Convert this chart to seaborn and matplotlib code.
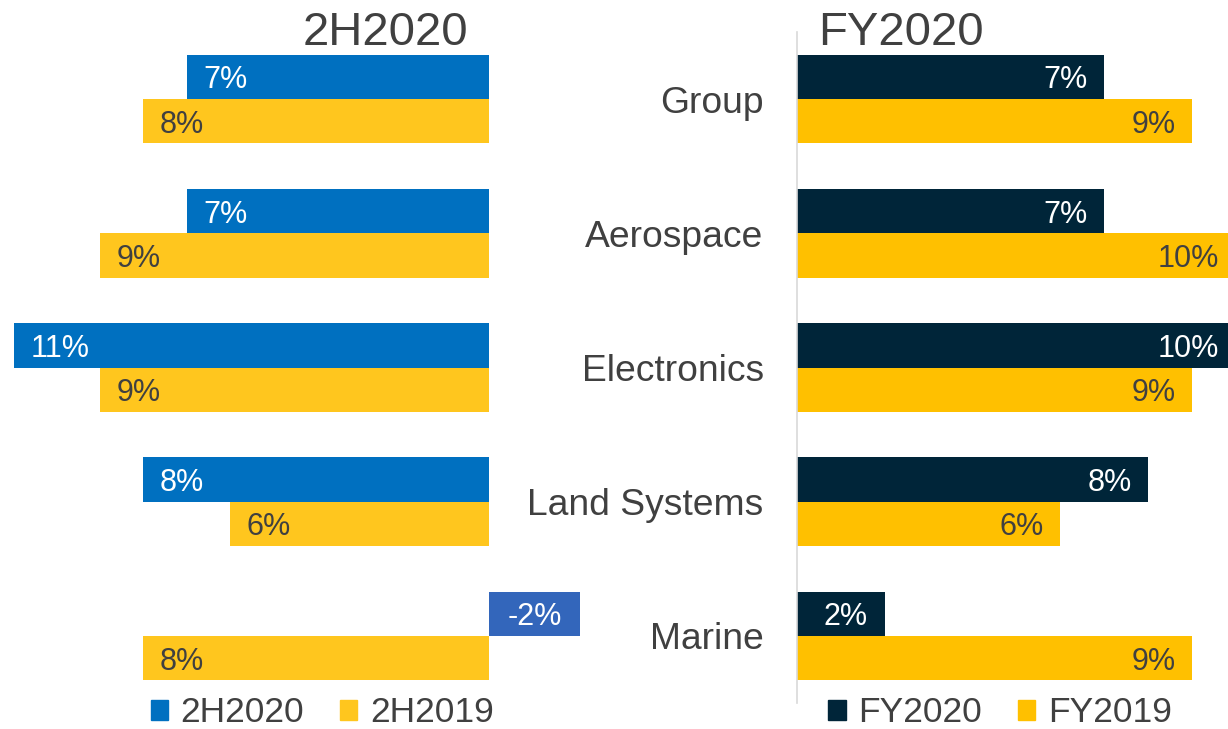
import pandas as pd
import matplotlib.pyplot as plt
import seaborn as sns
from matplotlib.patches import Patch

# Data
categories = ['Group', 'Aerospace', 'Electronics', 'Land Systems', 'Marine']
h2_2020 = [7, 7, 11, 8, -2.1]
h2_2019 = [8, 9, 9, 6, 8]
fy_2020 = [7, 7, 10, 8, 2]
fy_2019 = [9, 10, 9, 6, 9]

text_color = '#404040'
blue = '#0070C0'
blue_neg = '#3366BB'
yellow_left = '#FFC61E'
yellow_right = '#FFC000'
navy = '#002539'

sns.set_theme(style='white')
plt.rcParams['font.family'] = ['Liberation Sans', 'DejaVu Sans']
plt.rcParams['text.color'] = text_color

left_df = pd.DataFrame({
    'category': categories * 2,
    'value': h2_2020 + h2_2019,
    'series': ['2H2020'] * 5 + ['2H2019'] * 5,
})
right_df = pd.DataFrame({
    'category': categories * 2,
    'value': fy_2020 + fy_2019,
    'series': ['FY2020'] * 5 + ['FY2019'] * 5,
})

fig = plt.figure(figsize=(12.28, 7.29), dpi=100)
W, H = 1228, 729
bottom = 1 - 703 / H
height = (703 - 32) / H
ax_l = fig.add_axes([0, bottom, 588 / W, height])
ax_r = fig.add_axes([797 / W, bottom, (W - 797) / W, height])

# Left panel (bars grow leftwards)
sns.barplot(data=left_df, x='value', y='category', hue='series', orient='h',
            palette=[blue, yellow_left], width=0.66, saturation=1,
            linewidth=0, legend=False, ax=ax_l)
ax_l.set_xlim(11.32, -2.29)
ax_l.set_ylim(4.5, -0.5)
ax_l.axis('off')

for c_idx, cont in enumerate(ax_l.containers):
    for bar, v in zip(cont, cont.datavalues):
        yc = bar.get_y() + bar.get_height() / 2
        white = c_idx == 0
        if v < 0:
            bar.set_facecolor(blue_neg)
            ax_l.annotate(f'{v:.0f}%', (v / 2, yc), ha='center',
                          va='center_baseline', fontsize=22, color='white',
                          annotation_clip=False)
        else:
            ax_l.annotate(f'{v:.0f}%', (v, yc), xytext=(12, 0),
                          textcoords='offset points', ha='left',
                          va='center_baseline', fontsize=22,
                          color='white' if white else text_color,
                          annotation_clip=False)

# Right panel
sns.barplot(data=right_df, x='value', y='category', hue='series', orient='h',
            palette=[navy, yellow_right], width=0.66, saturation=1,
            linewidth=0, legend=False, ax=ax_r)
ax_r.set_xlim(0, 9.82)
ax_r.set_ylim(4.5, -0.5)
for s in ['top', 'right', 'bottom']:
    ax_r.spines[s].set_visible(False)
ax_r.spines['left'].set_color('#D9D9D9')
ax_r.spines['left'].set_linewidth(1.2)
ax_r.set_xticks([])
ax_r.set_xlabel('')
ax_r.set_ylabel('')
ax_r.tick_params(axis='y', length=0, pad=24, labelsize=26.8, labelcolor=text_color)
for lbl in ax_r.get_yticklabels():
    lbl.set_verticalalignment('center_baseline')

for c_idx, cont in enumerate(ax_r.containers):
    for bar, v in zip(cont, cont.datavalues):
        yc = bar.get_y() + bar.get_height() / 2
        ax_r.annotate(f'{v:.0f}%', (v, yc), xytext=(-12, 0),
                      textcoords='offset points', ha='right',
                      va='center_baseline', fontsize=22,
                      color='white' if c_idx == 0 else text_color,
                      annotation_clip=False)

# Titles
fig.text(385 / W, 1 - 45 / H, '2H2020', ha='center', va='baseline', fontsize=34)
fig.text(901 / W, 1 - 45 / H, 'FY2020', ha='center', va='baseline', fontsize=34)

# Legends
leg_kw = dict(frameon=False, ncol=2, fontsize=25.5, handlelength=0.5,
              handleheight=0.5, handletextpad=0.35, columnspacing=1.0,
              borderaxespad=0, loc='center')
fig.legend(handles=[Patch(color=blue, label='2H2020'),
                    Patch(color=yellow_left, label='2H2019')],
           bbox_to_anchor=(322 / W, 1 - 713 / H), **leg_kw)
fig.legend(handles=[Patch(color=navy, label='FY2020'),
                    Patch(color=yellow_right, label='FY2019')],
           bbox_to_anchor=(1000 / W, 1 - 713 / H), **leg_kw)

fig.savefig('out.png', dpi=100)
